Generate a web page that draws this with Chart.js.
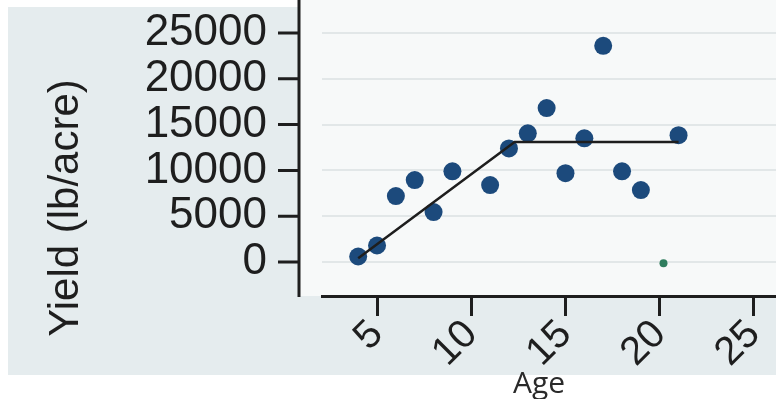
<!DOCTYPE html>
<html><head><meta charset="utf-8">
<script src="https://cdn.jsdelivr.net/npm/chart.js@4.4.1/dist/chart.umd.min.js"></script>
<style>html,body{margin:0;padding:0;background:#fff;overflow:hidden}#wrap{position:relative;width:776px;height:399px}</style>
</head><body><div id="wrap"><canvas id="c" width="776" height="399"></canvas></div>
<script>
const ages = [4, 5, 6, 7, 8, 9, 11, 12, 13, 14, 15, 16, 17, 18, 19, 21];
const yields = [600, 1800, 7200, 8950, 5450, 9900, 8400, 12400, 14050, 16800, 9700, 13500, 23600, 9900, 7850, 13850];
const fitAges = [4, 12.3, 21];
const fitYields = [400, 13100, 13100];
const strayAges = [20.2];
const strayYields = [-150];
const xTicks = [5, 10, 15, 20, 25];
const yTicks = [0, 5000, 10000, 15000, 20000, 25000];
const xTitle = 'Age';
const yTitle = 'Yield (lb/acre)';

const toPts = (xs, ys) => xs.map((x, i) => ({x: x, y: ys[i]}));
const INK = '#1e1e1e';

const decor = {
  id: 'decor',
  beforeDraw(chart) {
    const {ctx, chartArea: a} = chart;
    ctx.save();
    ctx.fillStyle = '#e5ecee';
    ctx.fillRect(8, 7, 768, 368);
    ctx.fillStyle = '#f7f9f9';
    ctx.fillRect(a.left - 22, 0, a.right - a.left + 22, a.bottom);
    ctx.restore();
  },
  afterDraw(chart) {
    const {ctx, chartArea: a} = chart;
    const y = chart.scales.y;
    const ax = a.left - 23;
    ctx.save();
    ctx.strokeStyle = INK; ctx.lineWidth = 3;
    ctx.beginPath();
    ctx.moveTo(ax, 0); ctx.lineTo(ax, a.bottom + 1);
    y.ticks.forEach(t => {
      const py = y.getPixelForValue(t.value);
      ctx.moveTo(ax - 21, py); ctx.lineTo(ax, py);
    });
    ctx.stroke();
    // x axis title
    ctx.font = '30px "Open Sans", sans-serif';
    ctx.textAlign = 'center'; ctx.textBaseline = 'alphabetic'; ctx.fillStyle = '#2a2a2a';
    ctx.fillText(xTitle, 539, 393);
    // y axis title
    ctx.translate(66, 208);
    ctx.rotate(-Math.PI / 2);
    ctx.font = '42px "Liberation Sans", Arial, sans-serif';
    ctx.textAlign = 'center'; ctx.textBaseline = 'middle'; ctx.fillStyle = INK;
    ctx.fillText(yTitle, 0, 0);
    ctx.restore();
  }
};

new Chart(document.getElementById('c'), {
  type: 'scatter',
  data: {
    datasets: [
      {label: 'fit', data: toPts(fitAges, fitYields), showLine: true, borderColor: INK, borderWidth: 2.5, pointRadius: 0, pointHoverRadius: 0, fill: false, order: 0},
      {label: 'yield', data: toPts(ages, yields), backgroundColor: '#1c4a7c', borderColor: '#1c4a7c', pointRadius: 9, pointBorderWidth: 0, order: 1},
      {label: 'stray', data: toPts(strayAges, strayYields), backgroundColor: '#2f7d5e', borderColor: '#2f7d5e', pointRadius: 4, pointBorderWidth: 0, order: 2}
    ]
  },
  options: {
    responsive: false,
    animation: false,
    devicePixelRatio: 1,
    layout: {padding: 0, autoPadding: false},
    plugins: {legend: {display: false}, tooltip: {enabled: false}},
    scales: {
      x: {
        type: 'linear', min: 2.08, max: 26.17,
        afterBuildTicks: s => { s.ticks = xTicks.map(v => ({value: v})); },
        afterFit: s => { s.height = 103; s.paddingLeft = 0; s.paddingRight = 0; },
        border: {display: true, color: INK, width: 3},
        grid: {display: true, drawOnChartArea: false, drawTicks: true, tickLength: 20, tickColor: INK, tickWidth: 3},
        ticks: {minRotation: 45, maxRotation: 45, autoSkip: false, padding: -5, color: INK,
          font: {family: '"Liberation Sans", Arial, sans-serif', size: 40},
          callback: v => String(v)},
        title: {display: false, text: xTitle}
      },
      y: {
        type: 'linear', min: -3712, max: 28603,
        afterBuildTicks: s => { s.ticks = yTicks.map(v => ({value: v})); },
        afterFit: s => { s.width = 322; s.paddingTop = 0; s.paddingBottom = 0; },
        border: {display: false},
        grid: {display: true, drawOnChartArea: true, color: '#e2e7e8', lineWidth: 2, drawTicks: true, tickLength: 40, tickColor: 'rgba(0,0,0,0)'},
        ticks: {padding: 15, color: INK, font: {family: '"Liberation Sans", Arial, sans-serif', size: 44},
          callback: v => String(v)},
        title: {display: false, text: yTitle}
      }
    }
  },
  plugins: [decor]
});
</script>
</body></html>
